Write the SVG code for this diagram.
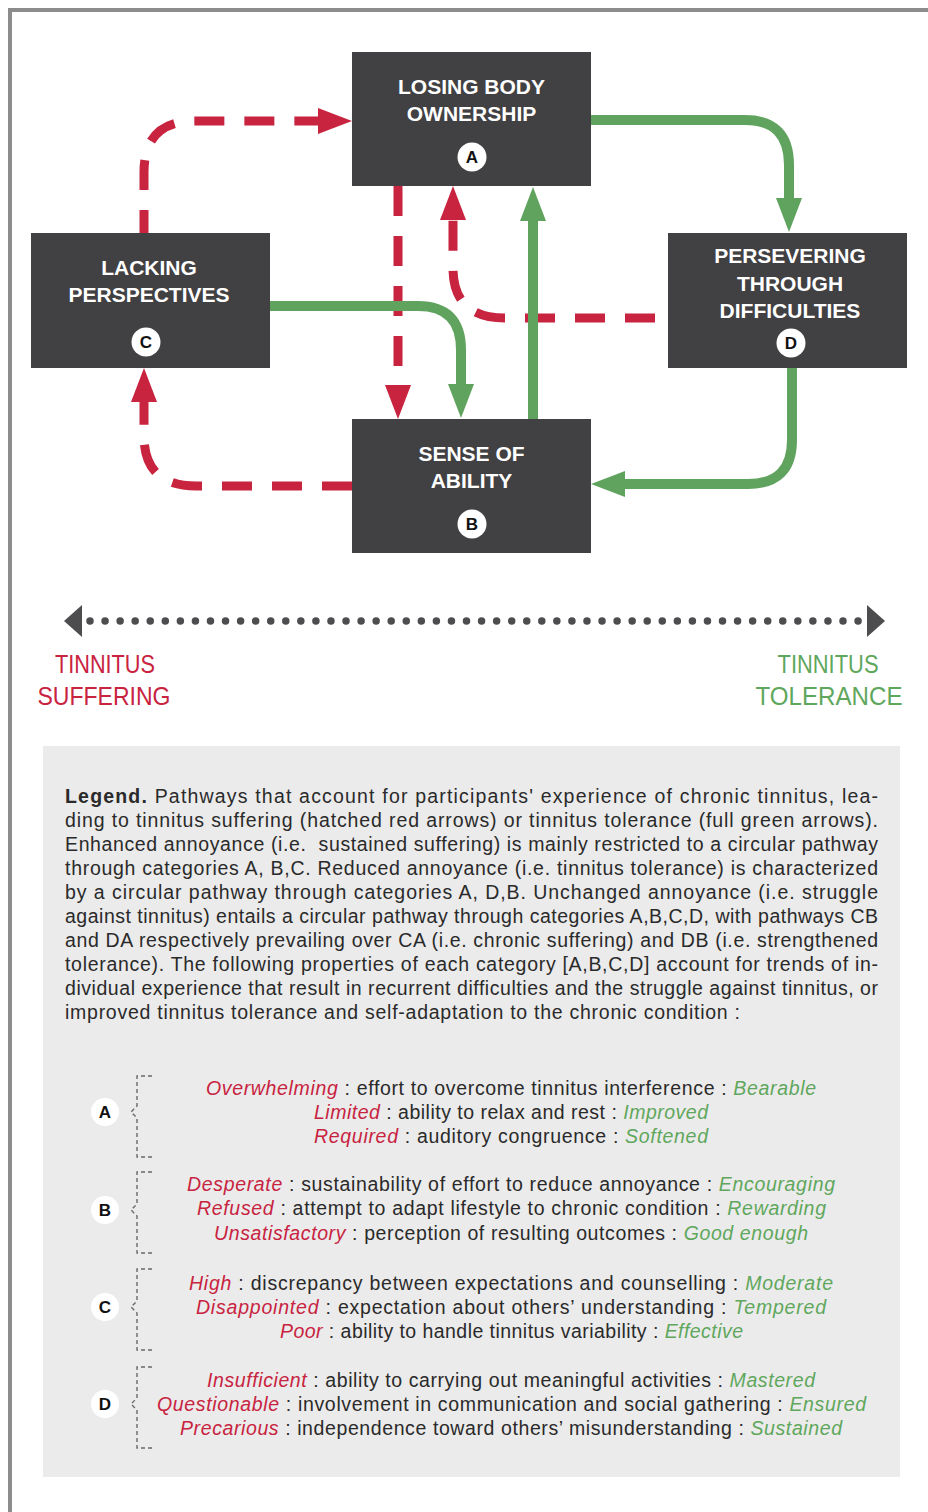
<svg xmlns="http://www.w3.org/2000/svg" width="928" height="1512" viewBox="0 0 928 1512">
<style>
.box{fill:#414042}
.nt{font-family:"Liberation Sans",Arial,sans-serif;font-weight:700;font-size:21px;fill:#fff;text-anchor:middle}
.badge{fill:#fff}
.bt{font-family:"Liberation Sans",Arial,sans-serif;font-weight:700;font-size:17px;fill:#111;text-anchor:middle}
.red{fill:none;stroke:#c8233f;stroke-width:9;stroke-dasharray:30 20}
.grn{fill:none;stroke:#60a35f;stroke-width:10}
.lbl{font-family:"Liberation Sans",Arial,sans-serif;font-size:25px;text-anchor:middle}
.para{font-family:"Liberation Sans",Arial,sans-serif;font-size:19.5px;fill:#2a2a2a}
.prop{font-family:"Liberation Sans",Arial,sans-serif;font-size:19.5px;fill:#2a2a2a}
.r{fill:#c8233f;font-style:italic}
.g{fill:#5fa75c;font-style:italic}
.brk{fill:none;stroke:#6a6a6a;stroke-width:1.4;stroke-dasharray:4 3}
</style>
<defs>
<marker id="mr" markerUnits="userSpaceOnUse" markerWidth="36" markerHeight="28" viewBox="0 0 36 28" refX="0" refY="14" orient="auto"><path d="M0,1 L34,14 L0,27 z" fill="#c8233f"/></marker>
<marker id="mg" markerUnits="userSpaceOnUse" markerWidth="36" markerHeight="28" viewBox="0 0 36 28" refX="1" refY="14" orient="auto"><path d="M0,1 L34,14 L0,27 z" fill="#60a35f"/></marker>
</defs>
<rect width="928" height="1512" fill="#fff"/>
<path d="M10,1512 V10 H928" fill="none" stroke="#8c8c8c" stroke-width="4"/>

<g id="connectors">
<path class="red" d="M144,233 V172 Q144,121 195,121 H318" stroke-dashoffset="7" marker-end="url(#mr)"/>
<path class="red" d="M398,186 V385" marker-end="url(#mr)"/>
<path class="red" d="M668,318 H505 Q453,318 453,268 V220" stroke-dashoffset="37" marker-end="url(#mr)"/>
<path class="red" d="M352,486 H196 Q144,486 144,436 V402" marker-end="url(#mr)"/>
<path class="grn" d="M591,120 H745 Q789,120 789,165 V199" marker-end="url(#mg)"/>
<path class="grn" d="M269,306 H418 Q461,306 461,350 V385" marker-end="url(#mg)"/>
<path class="grn" d="M533,419 V220" marker-end="url(#mg)"/>
<path class="grn" d="M792,368 V440 Q792,484 748,484 H624" marker-end="url(#mg)"/>
</g>

<g id="node-A">
<rect class="box" x="352" y="52" width="239" height="134"/>
<text class="nt" x="471.5" y="94">LOSING BODY</text>
<text class="nt" x="471.5" y="121">OWNERSHIP</text>
<circle class="badge" cx="472" cy="157" r="14.5"/>
<text class="bt" x="472" y="163">A</text>
</g>
<g id="node-C">
<rect class="box" x="31" y="233" width="239" height="135"/>
<text class="nt" x="149" y="275">LACKING</text>
<text class="nt" x="149" y="302">PERSPECTIVES</text>
<circle class="badge" cx="146" cy="342" r="14.5"/>
<text class="bt" x="146" y="348">C</text>
</g>
<g id="node-D">
<rect class="box" x="668" y="233" width="239" height="135"/>
<text class="nt" x="790" y="263">PERSEVERING</text>
<text class="nt" x="790" y="291">THROUGH</text>
<text class="nt" x="790" y="318">DIFFICULTIES</text>
<circle class="badge" cx="791" cy="343" r="14.5"/>
<text class="bt" x="791" y="349">D</text>
</g>
<g id="node-B">
<rect class="box" x="352" y="419" width="239" height="134"/>
<text class="nt" x="471.5" y="461">SENSE OF</text>
<text class="nt" x="471.5" y="488">ABILITY</text>
<circle class="badge" cx="472" cy="524" r="14.5"/>
<text class="bt" x="472" y="530">B</text>
</g>

<g id="scale">
<line x1="90" y1="621" x2="859" y2="621" stroke="#4d4d4f" stroke-width="7.5" stroke-linecap="round" stroke-dasharray="0 15.06"/>
<polygon points="64,621 82,605 82,637" fill="#4d4d4f"/>
<polygon points="885,621 867,605 867,637" fill="#4d4d4f"/>
<text class="lbl" x="105" y="673" fill="#c8233f" textLength="100" lengthAdjust="spacingAndGlyphs">TINNITUS</text>
<text class="lbl" x="104" y="705" fill="#c8233f" textLength="133" lengthAdjust="spacingAndGlyphs">SUFFERING</text>
<text class="lbl" x="828" y="673" fill="#5fa75c" textLength="101" lengthAdjust="spacingAndGlyphs">TINNITUS</text>
<text class="lbl" x="829" y="705" fill="#5fa75c" textLength="147" lengthAdjust="spacingAndGlyphs">TOLERANCE</text>
</g>

<g id="legend">
<rect x="43" y="746" width="857" height="731" fill="#ebebeb"/>
<text class="para" x="65" y="803" textLength="813" lengthAdjust="spacing"><tspan font-weight="700">Legend.</tspan> Pathways that account for participants' experience of chronic tinnitus, lea-</text>
<text class="para" x="65" y="827" textLength="813" lengthAdjust="spacing">ding to tinnitus suffering (hatched red arrows) or tinnitus tolerance (full green arrows).</text>
<text class="para" x="65" y="851" textLength="813" lengthAdjust="spacing" xml:space="preserve">Enhanced annoyance (i.e.  sustained suffering) is mainly restricted to a circular pathway</text>
<text class="para" x="65" y="875" textLength="813" lengthAdjust="spacing">through categories A, B,C. Reduced annoyance (i.e. tinnitus tolerance) is characterized</text>
<text class="para" x="65" y="899" textLength="813" lengthAdjust="spacing">by a circular pathway through categories A, D,B. Unchanged annoyance (i.e. struggle</text>
<text class="para" x="65" y="923" textLength="813" lengthAdjust="spacing">against tinnitus) entails a circular pathway through categories A,B,C,D, with pathways CB</text>
<text class="para" x="65" y="947" textLength="813" lengthAdjust="spacing">and DA respectively prevailing over CA (i.e. chronic suffering) and DB (i.e. strengthened</text>
<text class="para" x="65" y="971" textLength="813" lengthAdjust="spacing">tolerance). The following properties of each category [A,B,C,D] account for trends of in-</text>
<text class="para" x="65" y="995" textLength="813" lengthAdjust="spacing">dividual experience that result in recurrent difficulties and the struggle against tinnitus, or</text>
<text class="para" x="65" y="1019" textLength="675" lengthAdjust="spacing">improved tinnitus tolerance and self-adaptation to the chronic condition :</text>
</g>

<g id="cat-A">
<path class="brk" d="M152,1076 H137 V1106 L131,1112 L137,1118 V1157 H152"/>
<circle class="badge" cx="105" cy="1112" r="14"/>
<text class="bt" x="105" y="1118">A</text>
<text class="prop" x="206" y="1095" textLength="610" lengthAdjust="spacing"><tspan class="r">Overwhelming</tspan> : effort to overcome tinnitus interference : <tspan class="g">Bearable</tspan></text>
<text class="prop" x="314" y="1119" textLength="394" lengthAdjust="spacing"><tspan class="r">Limited</tspan> : ability to relax and rest : <tspan class="g">Improved</tspan></text>
<text class="prop" x="314" y="1143" textLength="394" lengthAdjust="spacing"><tspan class="r">Required</tspan> : auditory congruence : <tspan class="g">Softened</tspan></text>
</g>
<g id="cat-B">
<path class="brk" d="M152,1172 H137 V1204 L131,1210 L137,1216 V1253 H152"/>
<circle class="badge" cx="105" cy="1210" r="14"/>
<text class="bt" x="105" y="1216">B</text>
<text class="prop" x="187" y="1191" textLength="648" lengthAdjust="spacing"><tspan class="r">Desperate</tspan> : sustainability of effort to reduce annoyance : <tspan class="g">Encouraging</tspan></text>
<text class="prop" x="197" y="1215" textLength="629" lengthAdjust="spacing"><tspan class="r">Refused</tspan> : attempt to adapt lifestyle to chronic condition : <tspan class="g">Rewarding</tspan></text>
<text class="prop" x="214" y="1240" textLength="594" lengthAdjust="spacing"><tspan class="r">Unsatisfactory</tspan> : perception of resulting outcomes : <tspan class="g">Good enough</tspan></text>
</g>
<g id="cat-C">
<path class="brk" d="M152,1269 H137 V1301 L131,1307 L137,1313 V1350 H152"/>
<circle class="badge" cx="105" cy="1307" r="14"/>
<text class="bt" x="105" y="1313">C</text>
<text class="prop" x="189" y="1290" textLength="644" lengthAdjust="spacing"><tspan class="r">High</tspan> : discrepancy between expectations and counselling : <tspan class="g">Moderate</tspan></text>
<text class="prop" x="196" y="1314" textLength="630" lengthAdjust="spacing"><tspan class="r">Disappointed</tspan> : expectation about others’ understanding : <tspan class="g">Tempered</tspan></text>
<text class="prop" x="280" y="1338" textLength="463" lengthAdjust="spacing"><tspan class="r">Poor</tspan> : ability to handle tinnitus variability : <tspan class="g">Effective</tspan></text>
</g>
<g id="cat-D">
<path class="brk" d="M152,1367 H137 V1398 L131,1404 L137,1410 V1448 H152"/>
<circle class="badge" cx="105" cy="1404" r="14"/>
<text class="bt" x="105" y="1410">D</text>
<text class="prop" x="207" y="1387" textLength="608" lengthAdjust="spacing"><tspan class="r">Insufficient</tspan> : ability to carrying out meaningful activities : <tspan class="g">Mastered</tspan></text>
<text class="prop" x="157" y="1411" textLength="709" lengthAdjust="spacing"><tspan class="r">Questionable</tspan> : involvement in communication and social gathering : <tspan class="g">Ensured</tspan></text>
<text class="prop" x="180" y="1435" textLength="662" lengthAdjust="spacing"><tspan class="r">Precarious</tspan> : independence toward others’ misunderstanding : <tspan class="g">Sustained</tspan></text>
</g>
</svg>
